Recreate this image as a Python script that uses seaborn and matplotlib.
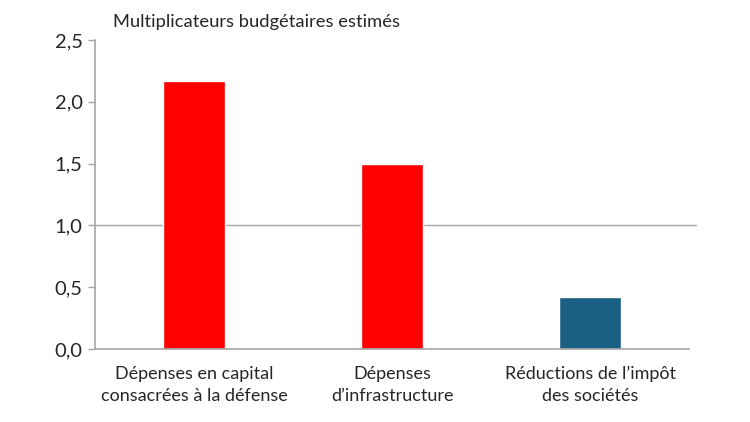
import pandas as pd
import matplotlib.pyplot as plt
import seaborn as sns

# Donnees
categories = ['Dépenses en capital\nconsacrées à la défense',
              'Dépenses\nd\u2019infrastructure',
              'Réductions de l\u2019impôt\ndes sociétés']
valeurs = [2.17, 1.50, 0.42]
couleurs = ['#ff0000', '#ff0000', '#1a5f84']
yticks = [0.0, 0.5, 1.0, 1.5, 2.0, 2.5]

df = pd.DataFrame({'categorie': categories, 'valeur': valeurs})

sns.set_style('white')
plt.rcParams['font.family'] = ['Lato', 'DejaVu Sans']

fig = plt.figure(figsize=(7.5, 4.22), dpi=100)
ax = fig.add_axes([0.1267, 0.173, 0.792, 0.732])
sns.barplot(data=df, x='categorie', y='valeur', hue='categorie',
            palette=couleurs, width=0.313, saturation=1, legend=False, ax=ax)

ax.axhline(1.0, color='#a6a6a6', lw=1, xmin=0, xmax=1.012, clip_on=False, zorder=0)
ax.set_xlim(-0.5, 2.5)
ax.set_ylim(0, 2.5)
ax.set_yticks(yticks)
ax.set_yticklabels([f'{v:.1f}'.replace('.', ',') for v in yticks], fontsize=14.5)
ax.tick_params(axis='y', length=5, color='#a6a6a6', width=1, pad=4, left=True)
ax.tick_params(axis='x', length=0, pad=12)
for lbl in ax.get_xticklabels():
    lbl.set_fontsize(13)
    lbl.set_linespacing(1.45)
ax.set_xlabel('')
ax.set_ylabel('')
for s in ['top', 'right']:
    ax.spines[s].set_visible(False)
for s in ['left', 'bottom']:
    ax.spines[s].set_color('#a6a6a6')
    ax.spines[s].set_linewidth(1.2)

fig.text(0.151, 0.948, 'Multiplicateurs budgétaires estimés', fontsize=13.2, va='center')

fig.savefig('out.png', dpi=100)
